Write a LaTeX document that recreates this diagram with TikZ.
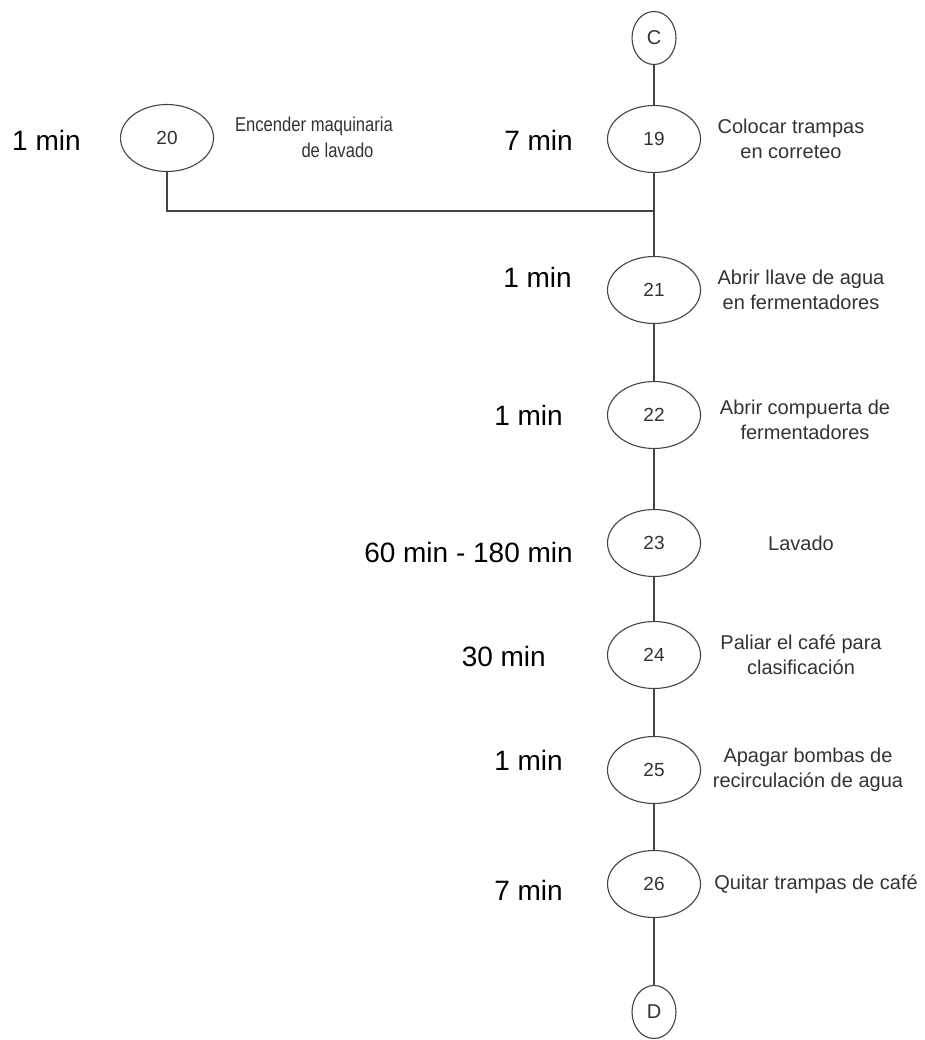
\documentclass[tikz,border=0pt]{standalone}
\usepackage{graphicx}
\usepackage{fontspec}
\setmainfont{Liberation Sans}
\usetikzlibrary{shapes.geometric}
\definecolor{linegray}{HTML}{444444}
\definecolor{textgray}{HTML}{333333}
\newcommand{\narrowtext}[1]{\scalebox{0.83}[1]{#1}}
\begin{document}
\begin{tikzpicture}[x=1pt,y=-1pt,
  stepnode/.style={ellipse,draw=linegray,line width=1.1pt,fill=white,
    minimum width=93pt,minimum height=67pt,inner sep=0pt,text=textgray,
    font=\fontsize{19}{22}\selectfont},
  connnode/.style={ellipse,draw=linegray,line width=1.1pt,fill=white,
    minimum width=44pt,minimum height=53pt,inner sep=0pt,text=textgray,
    font=\fontsize{20}{24}\selectfont},
  desc/.style={align=center,text=textgray,inner sep=0pt,
    font=\fontsize{20}{25}\selectfont},
  timelbl/.style={anchor=east,inner sep=0pt,text=black,
    font=\fontsize{28}{32}\selectfont},
  link/.style={draw=linegray,line width=1.1pt}]
\useasboundingbox (0,0) rectangle (925,1040);

% process nodes
\node[connnode] (c)   at (654,38)   {C};
\node[stepnode] (n19) at (654,139)  {19};
\node[stepnode] (n20) at (167,138)  {20};
\coordinate     (jn)  at (654,211);
\node[stepnode] (n21) at (654,290)  {21};
\node[stepnode] (n22) at (654,415)  {22};
\node[stepnode] (n23) at (654,543)  {23};
\node[stepnode] (n24) at (654,655)  {24};
\node[stepnode] (n25) at (654,770)  {25};
\node[stepnode] (n26) at (654,884)  {26};
\node[connnode] (d)   at (654,1012) {D};

% connectors
\draw[link] (c) -- (n19);
\draw[link] (n19) -- (n21);
\draw[link] (n20.south) |- (jn);
\draw[link] (n21) -- (n22);
\draw[link] (n22) -- (n23);
\draw[link] (n23) -- (n24);
\draw[link] (n24) -- (n25);
\draw[link] (n25) -- (n26);
\draw[link] (n26) -- (d);

% activity descriptions
\node[desc] (t19) at (791,139) {Colocar trampas\\en correteo};
\node[desc,font=\fontsize{20}{26}\selectfont] (t20) at (314,137)
  {\narrowtext{Encender maquinaria}\\\hspace*{47pt}\narrowtext{de lavado}};
\node[desc] (t21) at (801,290) {Abrir llave de agua\\en fermentadores};
\node[desc] (t22) at (805,420) {Abrir compuerta de\\fermentadores};
\node[desc] (t23) at (801,543) {Lavado};
\node[desc] (t24) at (801,655) {Paliar el café para\\clasificación};
\node[desc] (t25) at (808,770) {Apagar bombas de\\recirculación de agua};
\node[desc] (t26) at (816,884) {Quitar trampas de café};

% durations
\node[timelbl,anchor=west] (m20) at (12,140) {1 min};
\node[timelbl] (m19) at (573,140) {7 min};
\node[timelbl] (m21) at (572,277) {1 min};
\node[timelbl] (m22) at (563,415) {1 min};
\node[timelbl] (m23) at (573,552) {60 min - 180 min};
\node[timelbl] (m24) at (546,656) {30 min};
\node[timelbl] (m25) at (563,760) {1 min};
\node[timelbl] (m26) at (563,890) {7 min};
\end{tikzpicture}
\end{document}
